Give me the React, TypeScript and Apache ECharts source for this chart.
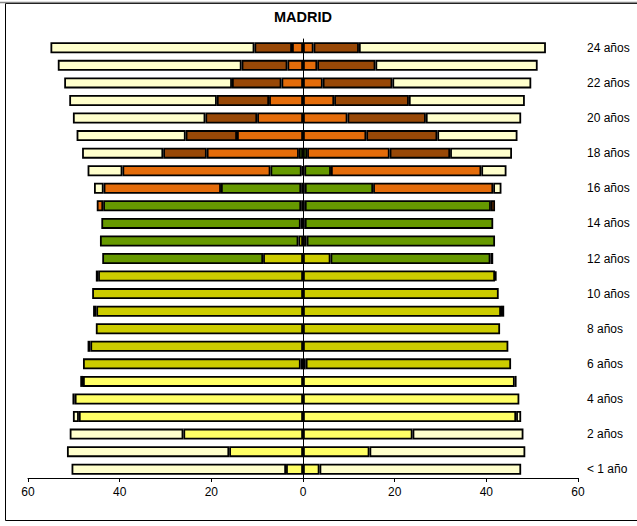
import React, { useEffect, useRef } from "react";
import * as echarts from "echarts";

const ages = [
  "< 1 año", "1 año", "2 años", "3 años", "4 años", "5 años", "6 años", "7 años", "8 años", "9 años",
  "10 años", "11 años", "12 años", "13 años", "14 años", "15 años", "16 años", "17 años", "18 años",
  "19 años", "20 años", "21 años", "22 años", "23 años", "24 años",
];
const xTicks = [-60, -40, -20, 0, 20, 40, 60];

type V = number | null;
// Left side (magnitudes), ages 0..24
const leftInfantil: V[] = [3.7, 16.1, 26.1, 48.9, 49.8, 48.0, 0.5, null, null, null, null, null, null, null, null, null, null, null, null, null, null, null, null, null, null];
const leftPrimaria: V[] = [null, null, null, null, null, null, 47.5, 46.4, 45.2, 45.1, 46.0, 44.7, 8.7, 1.0, 0.5, 0.4, 0.4, 0.3, null, null, null, null, null, null, null];
const leftESO: V[] = [null, null, null, null, null, null, null, null, null, null, null, 0.5, 35.1, 43.3, 43.5, 43.2, 17.5, 6.8, 0.9, null, null, null, null, null, null];
const leftBach: V[] = [null, null, null, null, null, null, null, null, null, null, null, null, null, null, null, 1.4, 25.6, 32.3, 20.1, 14.4, 10.0, 7.4, 4.7, 3.4, 2.4];
const leftUniv: V[] = [null, null, null, null, null, null, null, null, null, null, null, null, null, null, null, null, null, null, 9.5, 11.2, 11.3, 11.4, 10.8, 10.0, 8.2];
const leftNone: V[] = [46.8, 35.4, 24.8, 1.3, 0.5, 0.6, null, 0.6, null, 0.7, null, null, null, null, null, null, 2.1, 7.6, 17.7, 23.8, 28.9, 32.2, 36.6, 40.1, 44.5];

// Right side, ages 0..24
const rightInfantil: V[] = [3.6, 14.5, 23.9, 46.5, 47.2, 46.2, 0.6, null, null, null, null, null, null, null, null, null, null, null, null, null, null, null, null, null, null];
const rightPrimaria: V[] = [null, null, null, null, null, null, 44.8, 44.8, 43.0, 43.2, 42.7, 41.9, 6.0, 0.8, 0.4, 0.4, 0.4, 0.3, null, null, null, null, null, null, null];
const rightESO: V[] = [null, null, null, null, null, null, null, null, null, null, null, 0.3, 34.9, 41.1, 41.1, 40.6, 14.9, 5.8, 0.9, null, null, null, null, null, null];
const rightBach: V[] = [null, null, null, null, null, null, null, null, null, null, null, null, 0.6, null, null, 0.9, 26.2, 32.8, 18.0, 13.8, 9.7, 6.8, 4.3, 3.1, 2.3];
const rightUniv: V[] = [null, null, null, null, null, null, null, null, null, null, null, null, null, null, null, null, null, null, 13.2, 15.5, 17.1, 16.3, 15.2, 12.7, 9.9];
const rightNone: V[] = [44.0, 34.0, 24.2, 1.1, null, 0.4, null, null, null, 0.7, null, null, null, null, null, null, 1.8, 5.5, 13.5, 17.5, 20.8, 25.3, 30.3, 35.4, 40.8];

const levelNames = ["Infantil", "Primaria", "ESO", "Bachillerato/FP", "Universidad", "No escolarizado"];
const levelColors = ["#FFFF66", "#CCCC00", "#669900", "#E46C0A", "#984807", "#FFFFCC"];
const leftData = [leftInfantil, leftPrimaria, leftESO, leftBach, leftUniv, leftNone];
const rightData = [rightInfantil, rightPrimaria, rightESO, rightBach, rightUniv, rightNone];

const FONT = 'Arial, "Liberation Sans", sans-serif';

export default function App() {
  const ref = useRef<HTMLDivElement>(null);
  useEffect(() => {
    document.body.style.margin = "0";
    if (!ref.current) return;
    const chart = echarts.init(ref.current, null, { renderer: "svg" });
    const series: any[] = [];
    const mk = (name: string, stack: string, data: any[], color: string) => ({
      name,
      type: "bar",
      stack,
      yAxisIndex: 0,
      barWidth: 11,
      barGap: "-100%",
      data,
      itemStyle: { color, borderColor: "#000", borderWidth: 1.8 },
    });
    levelNames.forEach((name, i) => {
      series.push(mk(name + " L", "L", leftData[i].map((v) => (v == null ? "-" : -v)), levelColors[i]));
    });
    levelNames.forEach((name, i) => {
      series.push(mk(name + " R", "R", rightData[i].map((v) => (v == null ? "-" : v)), levelColors[i]));
    });
    chart.setOption({
      animation: false,
      textStyle: { fontFamily: FONT },
      grid: { left: 28, right: 59, top: 39, bottom: 48, containLabel: false },
      xAxis: {
        type: "value",
        min: xTicks[0],
        max: xTicks[xTicks.length - 1],
        interval: 20,
        axisLine: { show: true, onZero: false, lineStyle: { color: "#000", width: 1 } },
        axisTick: { show: true, length: 4, lineStyle: { color: "#000" } },
        axisLabel: {
          color: "#000",
          fontSize: 12,
          fontFamily: FONT,
          margin: 8,
          formatter: (v: number) => String(Math.abs(v)),
        },
        splitLine: { show: false },
      },
      yAxis: [
        {
          type: "category",
          data: ages,
          axisLine: { show: true, onZero: true, lineStyle: { color: "#000", width: 1 } },
          axisTick: { show: false },
          axisLabel: { show: false },
        },
        {
          type: "category",
          data: ages,
          position: "right",
          axisLine: { show: false },
          axisTick: { show: false },
          axisLabel: { show: true, interval: 1, color: "#000", fontSize: 12, fontFamily: FONT, margin: 9 },
        },
      ],
      graphic: [
        {
          type: "rect",
          shape: { x: 5.5, y: 3.5, width: 640, height: 517 },
          style: { fill: "none", stroke: "#000", lineWidth: 1 },
          silent: true,
        },
        {
          type: "line",
          shape: { x1: 0, y1: 2.5, x2: 637, y2: 2.5 },
          style: { stroke: "#888", lineWidth: 1.5 },
          silent: true,
        },
        {
          type: "text",
          x: 303,
          y: 17,
          style: {
            text: "MADRID",
            fontFamily: FONT,
            fontWeight: "bold",
            fontSize: 14.5,
            fill: "#000",
            textAlign: "center",
            textVerticalAlign: "middle",
          },
        },
      ],
      series,
    });
    return () => chart.dispose();
  }, []);
  return <div ref={ref} style={{ width: 637, height: 526 }} />;
}
